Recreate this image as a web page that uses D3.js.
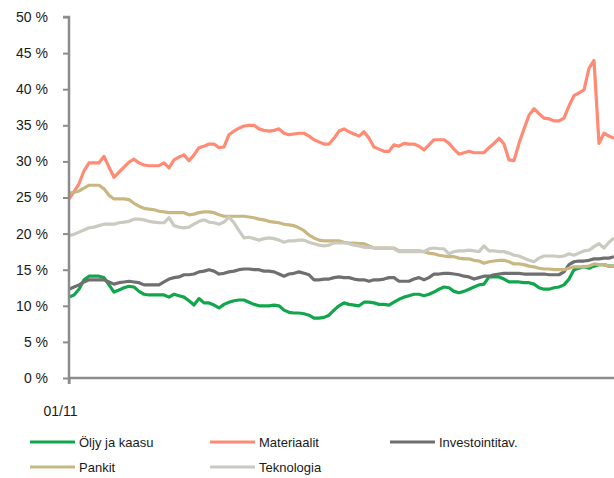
<!DOCTYPE html>
<meta charset="utf-8">
<style>
  body { margin: 0; background: #fff; }
  text { font-family: "Liberation Sans", Arial, sans-serif; fill: #1a1a1a; }
</style>
<svg width="614" height="478"></svg>
<script src="https://d3js.org/d3.v7.min.js"></script>
<script>

    // values, in %, one point per trading day-ish step
    var oljy = [11.2,11.5,12.3,13.6,14.1,14.1,14.1,13.9,12.9,11.9, 12.2,12.5,12.7,12.6,12.0,11.6,11.5,11.5,11.5,11.5,
        11.2,11.6,11.4,11.2,10.7,10.1,11.0,10.4,10.4,10.1, 9.7,10.2,10.5,10.7,10.8,10.8,10.5,10.2,10.0,10.0,
        10.0,10.1,10.0,9.4,9.1,9.0,9.0,8.9,8.7,8.3, 8.3,8.4,8.7,9.4,10.0,10.4,10.2,10.1,10.0,10.5,
        10.5,10.4,10.2,10.2,10.1,10.5,10.9,11.2,11.4,11.6, 11.6,11.4,11.6,11.9,12.3,12.6,12.5,12.0,11.8,12.0,
        12.3,12.6,12.9,13.0,14.0,14.0,14.0,13.7,13.3,13.3, 13.3,13.2,13.2,13.0,12.5,12.3,12.3,12.5,12.6,12.9,
        13.7,15.0,15.2,15.4,15.2,15.5,15.7,15.7,15.5,15.5];
    var materiaalit = [24.8,25.8,26.9,28.7,29.8,29.8,29.8,30.7,29.2,27.8, 28.5,29.2,29.9,30.3,29.8,29.5,29.4,29.4,29.4,29.8,
        29.1,30.2,30.6,30.9,30.1,30.9,31.9,32.1,32.4,32.4, 31.9,32.0,33.7,34.2,34.6,34.9,35.0,35.0,34.5,34.3,
        34.2,34.3,34.5,33.9,33.7,33.8,33.9,33.9,33.5,33.0, 32.7,32.4,32.4,33.2,34.2,34.5,34.1,33.8,33.5,34.1,
        33.2,32.0,31.7,31.4,31.4,32.3,32.1,32.5,32.4,32.4, 32.1,31.6,32.3,33.0,33.0,33.0,32.5,31.7,31.0,31.2,
        31.4,31.2,31.2,31.2,31.9,32.5,33.2,32.4,30.2,30.1, 32.5,34.5,36.4,37.3,36.6,36.0,35.9,35.6,35.6,36.0,
        37.7,39.1,39.5,39.9,42.9,44.0,32.5,33.9,33.5,33.2];
    var investointitav = [12.3,12.6,12.9,13.3,13.6,13.6,13.6,13.6,13.3,13.0, 13.2,13.3,13.4,13.3,13.2,12.9,12.9,12.9,12.9,13.3,
        13.7,13.9,14.0,14.3,14.3,14.4,14.7,14.8,15.0,14.8, 14.4,14.5,14.7,14.8,15.0,15.1,15.1,15.0,15.0,14.8,
        14.8,14.7,14.4,14.1,14.4,14.5,14.7,14.5,14.3,13.6, 13.6,13.7,13.7,13.9,14.0,13.9,13.9,13.7,13.6,13.6,
        13.4,13.6,13.6,13.7,13.9,13.9,13.4,13.4,13.4,13.7, 13.9,13.6,13.9,14.4,14.4,14.5,14.5,14.4,14.3,14.1,
        14.0,13.7,13.9,14.1,14.1,14.3,14.4,14.5,14.5,14.5, 14.5,14.4,14.4,14.4,14.4,14.4,14.3,14.3,14.3,14.7,
        15.7,16.1,16.2,16.2,16.3,16.5,16.5,16.6,16.6,16.8];
    var pankit = [25.6,25.7,25.9,26.3,26.7,26.7,26.7,26.2,25.3,24.8, 24.8,24.8,24.7,24.2,23.8,23.5,23.4,23.3,23.1,23.0,
        22.9,22.9,22.9,22.9,22.6,22.7,22.9,23.0,23.0,22.9, 22.6,22.4,22.4,22.4,22.4,22.4,22.3,22.2,22.0,21.9,
        21.7,21.6,21.5,21.3,21.2,21.1,20.8,20.4,19.8,19.4, 19.1,19.0,19.0,19.0,19.0,18.8,18.7,18.7,18.6,18.6,
        18.3,18.0,18.0,18.0,18.0,18.0,17.6,17.6,17.6,17.6, 17.6,17.5,17.3,17.2,17.0,16.9,16.8,16.8,16.6,16.5,
        16.5,16.3,16.2,15.9,16.1,16.2,16.3,16.3,16.1,15.8, 15.8,15.7,15.5,15.4,15.2,15.1,15.1,15.0,15.0,15.0,
        15.2,15.4,15.4,15.4,15.5,15.8,15.7,15.7,15.5,15.5];
    var teknologia = [19.7,19.9,20.2,20.5,20.8,20.9,21.1,21.3,21.3,21.3, 21.5,21.6,21.7,22.0,22.0,21.9,21.7,21.6,21.5,21.5,
        22.2,21.1,20.9,20.8,20.9,21.3,21.7,21.9,21.6,21.5, 21.3,21.6,22.3,21.5,20.4,19.4,19.5,19.3,19.1,19.3,
        19.4,19.3,19.1,18.8,19.0,19.0,19.1,19.1,18.8,18.6, 18.4,18.3,18.4,18.7,18.7,18.7,18.6,18.4,18.3,18.1,
        18.1,18.0,18.0,18.0,18.0,17.9,17.5,17.5,17.5,17.5, 17.5,17.5,17.9,18.0,17.9,17.9,17.2,17.5,17.6,17.6,
        17.7,17.6,17.5,18.3,17.6,17.6,17.5,17.5,17.3,17.0, 16.9,16.6,16.3,16.1,16.6,16.9,16.9,16.9,16.8,16.9,
        17.2,17.0,17.3,17.6,17.7,18.2,18.6,18.0,18.8,19.4];

    var seriesNames = ["Öljy ja kaasu", "Materiaalit", "Investointitav.", "Pankit", "Teknologia"];
    var seriesColors = ["#12a64c", "#ff8b74", "#6f6f6f", "#c9b781", "#cacac0"];
    var xTickLabels = ["01/11"];
    var yTicks = [0, 5, 10, 15, 20, 25, 30, 35, 40, 45, 50];

    var allSeries = [oljy, materiaalit, investointitav, pankit, teknologia];

    var svg = d3.select("svg");

    var x = d3.scaleLinear().domain([0, oljy.length - 1]).range([69, 614]);
    var y = d3.scaleLinear().domain([0, 50]).range([378, 17]);

    // lines
    var line = d3.line()
        .x(function(d, i) { return x(i); })
        .y(function(d) { return y(d); });

    svg.append("defs").append("clipPath").attr("id", "plot")
        .append("rect").attr("x", 69).attr("y", 0).attr("width", 545).attr("height", 380);

    svg.append("g").attr("clip-path", "url(#plot)")
        .selectAll("path")
        .data(allSeries)
        .enter().append("path")
        .attr("d", line)
        .attr("fill", "none")
        .attr("stroke", function(d, i) { return seriesColors[i]; })
        .attr("stroke-width", 3.2)
        .attr("stroke-linejoin", "round");

    // y axis
    var yAxis = svg.append("g")
        .attr("transform", "translate(69,0)")
        .call(d3.axisLeft(y).tickValues(yTicks).tickSize(6).tickPadding(15)
            .tickFormat(function(d) { return d + " %"; }));
    yAxis.select(".domain").attr("stroke", "#8c8c8c").attr("stroke-width", 2.5)
        .attr("d", "M-6,17H0V384");
    yAxis.selectAll(".tick line").attr("stroke", "#8c8c8c").attr("stroke-width", 2);
    yAxis.selectAll("text").attr("font-size", 14).attr("fill", "#1a1a1a")
        .attr("font-family", "'Liberation Sans', Arial, sans-serif");

    // x axis
    var xAxis = svg.append("g")
        .attr("transform", "translate(0,378)")
        .call(d3.axisBottom(x).tickValues([0]).tickSize(6).tickPadding(22)
            .tickFormat(function(d, i) { return xTickLabels[i]; }));
    xAxis.select(".domain").attr("stroke", "#8c8c8c").attr("stroke-width", 2.5)
        .attr("d", "M69,0H614");
    xAxis.selectAll(".tick line").attr("stroke", "#8c8c8c").attr("stroke-width", 2);
    xAxis.selectAll("text").attr("font-size", 14).attr("fill", "#1a1a1a").attr("dx", -9)
        .attr("font-family", "'Liberation Sans', Arial, sans-serif");

    // legend
    var legendPos = [[30, 442], [210, 442], [390, 442], [30, 467], [210, 467]];
    var legend = svg.append("g").selectAll("g")
        .data(seriesNames)
        .enter().append("g")
        .attr("transform", function(d, i) { return "translate(" + legendPos[i][0] + "," + legendPos[i][1] + ")"; });
    legend.append("line")
        .attr("x1", 0).attr("x2", 45)
        .attr("stroke", function(d, i) { return seriesColors[i]; })
        .attr("stroke-width", 3.2);
    legend.append("text")
        .attr("x", 49).attr("dy", "0.35em")
        .attr("font-size", 13)
        .text(function(d) { return d; });
</script>
